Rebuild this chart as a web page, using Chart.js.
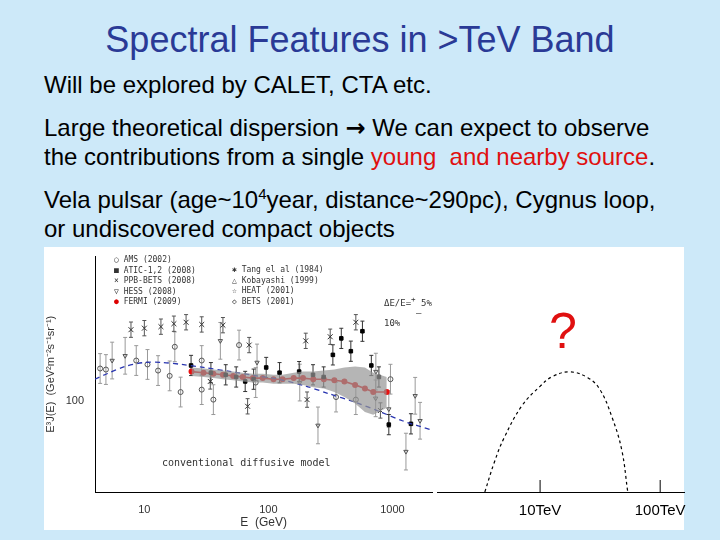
<!DOCTYPE html>
<html><head><meta charset="utf-8">
<script src="https://cdn.jsdelivr.net/npm/chart.js@4"></script>
<style>
body{margin:0;width:720px;height:540px;background:#cde9f9;font-family:"Liberation Sans",Arial,sans-serif;position:relative;overflow:hidden}
.t{position:absolute;white-space:nowrap}
#title{left:0;width:720px;text-align:center;top:19px;font-size:36px;color:#2a3a96}
.l{left:44px;font-size:24px;color:#000;line-height:27px}
.r{color:#e01010}
#lw{position:absolute;left:44px;top:247px;width:394px;height:283px;background:#fff}
#rw{position:absolute;left:437px;top:247px;width:247px;height:283px;background:#fff}
#c2{position:absolute;left:0;top:0}
.lg{position:absolute;font-size:8px;color:#333;font-family:"DejaVu Sans Mono",monospace}
</style></head><body>
<div id="title" class="t">Spectral Features in &gt;TeV Band</div>
<div class="t l" style="top:71px">Will be explored by CALET, CTA etc.</div>
<div class="t l" style="top:114px">Large theoretical dispersion <b style="font-family:'DejaVu Sans'">&#x2192;</b> We can expect to observe</div>
<div class="t l" style="top:143px">the contributions from a single <span class="r">young&nbsp; and nearby source</span>.</div>
<div class="t l" style="top:186px">Vela pulsar (age~10<sup style="font-size:15px;line-height:0">4</sup>year, distance~290pc), Cygnus loop,</div>
<div class="t l" style="top:215px">or undiscovered compact objects</div>
<div id="lw"><canvas id="c1" width="394" height="283"></canvas>
<div class="lg" style="left:70px;top:8px;line-height:10.5px">○ AMS (2002)<br>■ ATIC-1,2 (2008)<br>× PPB-BETS (2008)<br>▽ HESS (2008)<br><span style="color:#d00">●</span> FERMI (2009)</div>
<div class="lg" style="left:188px;top:18px;line-height:10.5px">✱ Tang el al (1984)<br>△ Kobayashi (1999)<br>☆ HEAT (2001)<br>◇ BETS (2001)</div>
<div class="lg" style="left:340px;top:48px;font-size:9px">ΔE/E=<sup>+</sup> 5%<br><span style="padding-left:32px">– 10%</span></div>
<div class="lg" style="left:118px;top:210px;font-size:10px">conventional diffusive model</div>
</div>
<div id="rw"><canvas id="c2" width="262" height="283"></canvas>
<div class="t" style="left:112px;top:55px;font-size:50px;color:#e01010">?</div>
</div>
<script>
const atic=[[23.8,131],[34.4,124],[45.3,122],[55,120],[65,116],[76,118],[96,129],[123,124],[177,125],[229,122],[279,120],[331,142],[387,161],[462,146],[573,170],[676,131],[778,120],[935,83.5],[1410,84]];
const ppb=[[7.8,172],[10,174],[13.6,176],[17.3,180],[21.7,182],[29,179],[43,178],[200,158],[315,163],[507,182],[70,153],[68,96],[800,93],[205,101],[34,116]];
const ams=[[4.4,128],[4.9,127],[8.6,136],[10.6,132],[12.9,126],[16,121],[17.6,151],[19.6,107],[29,109],[29,136],[36,101],[58,153],[79,115],[351,103],[507,101],[964,118]];
const hess=[[5.5,136],[7,141],[41,158],[81,134],[179,115],[732,102],[735,125],[935,94],[1285,68],[1525,104],[1670,86],[251,83]];
const fermiE=[24,30,36,43,52,62,75,90,110,130,160,190,230,280,340,410,500,600,700,900];
const fermiV=[125,124,123,122,121,120,119,119,118,118,119,119,118,118,117,116,113,110,107,107];
const bandHi=[129,128,127,126,125,124,123,123,122,122,124,125,125,126,127,129,130,129,124,120];
const bandLo=[121,120,119,118,117,116,115,115,114,114,114,113,111,110,107,103,98,92,90,95];
const modelE=[4,5,7,10,14,20,30,50,80,120,200,300,500,800,1200,2100];
const modelV=[118,123,130,134,134,132,129,125,121,118,112,106,99,92,86,80];
const xTicks=[10,100,1000], yTicks=[100];
const bumpX=[3.54,3.62,3.7,3.85,4.0,4.1,4.25,4.4,4.5,4.6,4.68,4.73];
const bumpY=[0,0.25,0.45,0.72,0.88,0.96,1.0,0.95,0.85,0.62,0.35,0];
const rTicks=[4,5], rLabels=['10TeV','100TeV'];

const pts=a=>a.map(p=>({x:p[0],y:p[1]}));
const zip=(x,y)=>x.map((v,i)=>({x:v,y:y[i]}));
const errPlugin={id:'err',beforeDatasetsDraw(ch){const c=ch.ctx,ys=ch.scales.y;c.save();c.lineWidth=1;
 ch.data.datasets.forEach((d,i)=>{if(!d.err)return;const m=ch.getDatasetMeta(i);c.strokeStyle=d.errColor||'#999';
 m.data.forEach((e,j)=>{const v=d.data[j].y;const t=ys.getPixelForValue(v*(1+d.err)),b=ys.getPixelForValue(v/(1+d.err));
 c.beginPath();c.moveTo(e.x,t);c.lineTo(e.x,b);c.moveTo(e.x-2,t);c.lineTo(e.x+2,t);c.moveTo(e.x-2,b);c.lineTo(e.x+2,b);c.stroke();});});c.restore();}};
const upTicks={id:'upTicks',afterDraw(ch){const x=ch.scales.x,c=ch.ctx;c.save();c.strokeStyle='#000';c.lineWidth=1;
 x.ticks.forEach(t=>{const p=x.getPixelForValue(t.value);c.beginPath();c.moveTo(p,x.top);c.lineTo(p,x.top-12);c.stroke();});c.restore();}};
const sc=(d)=>Object.assign({showLine:false,pointRadius:2.5,borderWidth:1},d);
new Chart(document.getElementById('c1'),{type:'scatter',plugins:[errPlugin],
data:{datasets:[
 {type:'line',data:zip(fermiE,bandHi),borderWidth:0,pointRadius:0,fill:'+1',backgroundColor:'rgba(150,150,150,0.7)'},
 {type:'line',data:zip(fermiE,bandLo),borderWidth:0,pointRadius:0,fill:false},
 {type:'line',data:zip(modelE,modelV),borderColor:'#2a36b0',borderDash:[5,4],borderWidth:1.3,pointRadius:0,tension:0.3},
 sc({data:pts(ams),pointStyle:'circle',borderColor:'#555',backgroundColor:'transparent',err:0.12}),
 sc({data:pts(hess),pointStyle:'triangle',rotation:180,borderColor:'#555',backgroundColor:'transparent',err:0.15}),
 sc({data:pts(ppb),pointStyle:'crossRot',pointRadius:3.5,borderColor:'#333',err:0.06,errColor:'#555'}),
 sc({data:pts(atic),pointStyle:'rect',pointRadius:2.5,borderColor:'#000',backgroundColor:'#000',err:0.08,errColor:'#333'}),
 {type:'line',data:zip(fermiE,fermiV),borderColor:'#e81010',borderWidth:1.6,pointRadius:2.2,pointBackgroundColor:'#e81010',pointBorderColor:'#e81010'}
]},
options:{responsive:false,animation:false,plugins:{legend:{display:false},tooltip:{enabled:false}},layout:{padding:{top:3,right:1}},
scales:{
 x:{type:'logarithmic',min:4,max:2100,afterFit:s=>{s.height=38},grid:{display:false,drawTicks:true},border:{color:'#000'},
  afterBuildTicks:s=>{s.ticks=xTicks.map(v=>({value:v}))},ticks:{color:'#333',font:{size:11},autoSkip:false,maxRotation:0,callback:v=>String(v)},
  title:{display:true,text:'E  (GeV)',color:'#333',font:{size:12},padding:0}},
 y:{type:'logarithmic',min:50,max:300,afterFit:s=>{s.width=51},grid:{display:false},border:{color:'#000'},
  afterBuildTicks:s=>{s.ticks=yTicks.map(v=>({value:v}))},ticks:{color:'#333',font:{size:11},callback:v=>String(v)},
  title:{display:true,text:'E³J(E)  (GeV²m⁻²s⁻¹sr⁻¹)',color:'#333',font:{size:11},padding:0}}
}}});
new Chart(document.getElementById('c2'),{type:'line',plugins:[upTicks],
data:{datasets:[{data:zip(bumpX,bumpY),borderColor:'#000',borderDash:[3,3],borderWidth:1.2,pointRadius:0,tension:0.4}]},
options:{responsive:false,animation:false,plugins:{legend:{display:false},tooltip:{enabled:false}},layout:{padding:{left:0,top:0,bottom:0,right:15}},
scales:{
 x:{type:'linear',min:3.1417,max:5.1983,afterFit:s=>{s.height=38;s.paddingLeft=0;s.paddingRight=0},grid:{display:false,drawTicks:false},border:{color:'#000'},
  afterBuildTicks:s=>{s.ticks=rTicks.map(v=>({value:v}))},ticks:{color:'#000',font:{size:15},callback:(v,i)=>rLabels[i],maxRotation:0,padding:10}},
 y:{type:'linear',min:0,max:2.04,display:false}
}}});
</script></body></html>
